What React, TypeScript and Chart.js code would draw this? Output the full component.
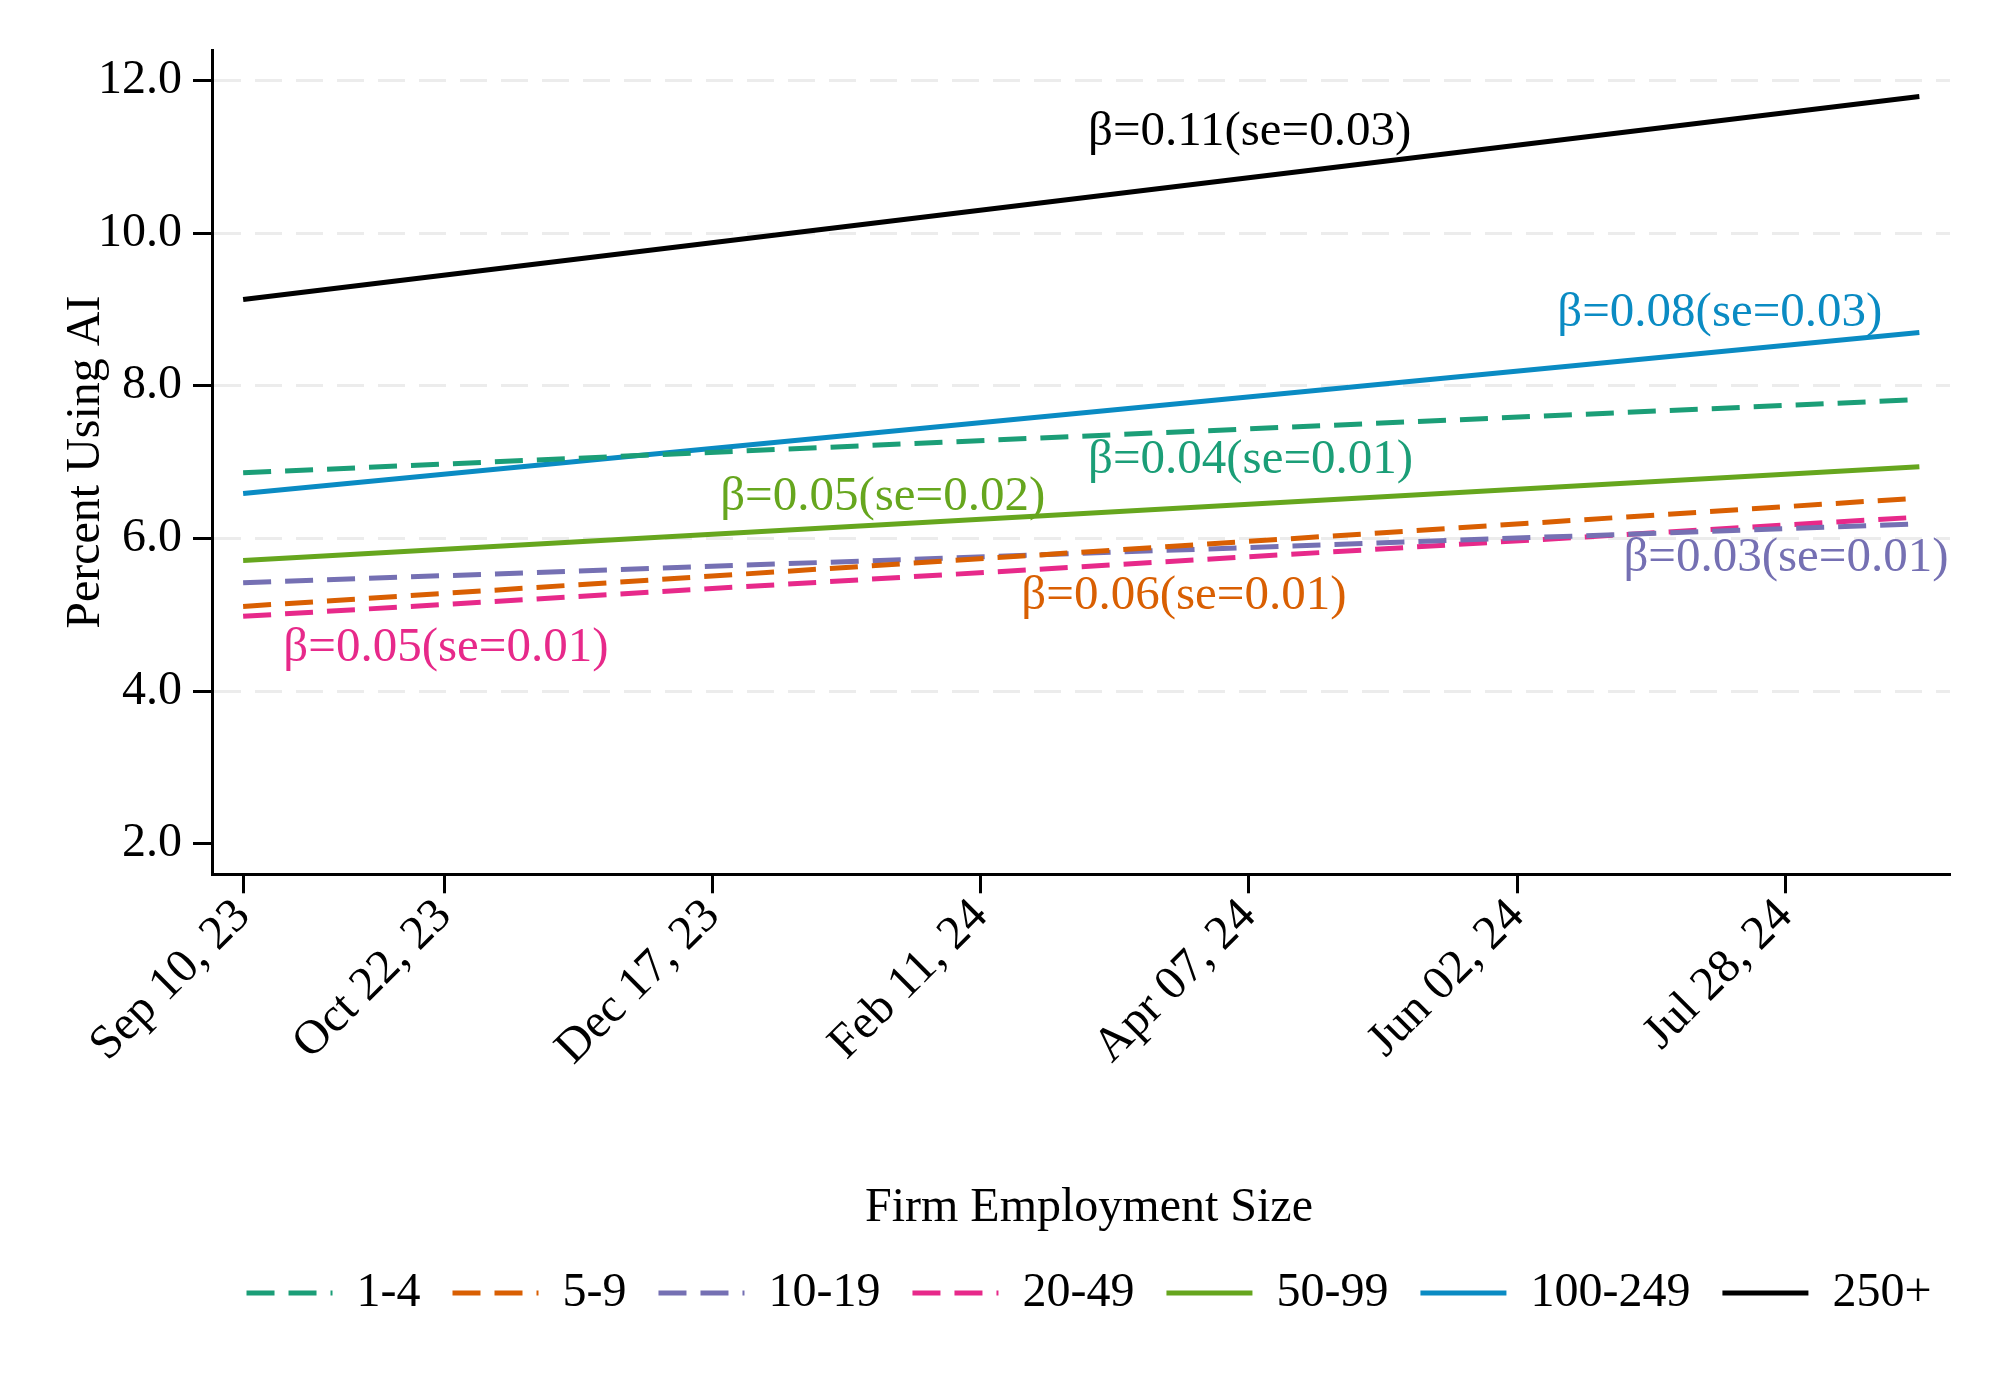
import React, { useEffect, useRef } from "react";
import { Chart, registerables } from "chart.js";

Chart.register(...registerables);

// ---- data ----
const SERIES_LABELS = ["1-4", "5-9", "10-19", "20-49", "50-99", "100-249", "250+"];
// fitted-line endpoints: days since Sep 10, 2023
const LINE_DAYS = [0, 350];
const START_VALUES = [6.86, 5.11, 5.42, 4.98, 5.71, 6.59, 9.13];
const END_VALUES = [7.82, 6.53, 6.19, 6.28, 6.94, 8.7, 11.79];

const X_TICK_DAYS = [0, 42, 98, 154, 210, 266, 322];
const X_TICK_LABELS = ["Sep 10, 23", "Oct 22, 23", "Dec 17, 23", "Feb 11, 24", "Apr 07, 24", "Jun 02, 24", "Jul 28, 24"];
const Y_TICKS = [2, 4, 6, 8, 10, 12];

const ANNOTATION_TEXT = [
  "β=0.04(se=0.01)",
  "β=0.06(se=0.01)",
  "β=0.03(se=0.01)",
  "β=0.05(se=0.01)",
  "β=0.05(se=0.02)",
  "β=0.08(se=0.03)",
  "β=0.11(se=0.03)",
];
const ANNOTATION_DAY = [176.4, 162.5, 288.2, 8.4, 99.6, 274.4, 176.4];
const ANNOTATION_VALUE = [6.86, 5.08, 5.57, 4.4, 6.37, 8.78, 11.15];

// ---- styles ----
const COLORS = ["#1b9e77", "#d95f02", "#7570b3", "#e7298a", "#66a61e", "#0a8bc3", "#000000"];
const DASHED = [true, true, true, true, false, false, false];
const DASH = [28, 14];
const LINE_WIDTH = 5;
const FONT_FAMILY = "'Liberation Serif', 'Times New Roman', serif";
const FONT_SIZE = 48;
const ANNOT_FONT_SIZE = 49;
const LEGEND_SHIFT = 114;

const annotationPlugin = {
  id: "betaAnnotations",
  afterDatasetsDraw(chart: any) {
    const { ctx, scales } = chart;
    ctx.save();
    ctx.font = `${ANNOT_FONT_SIZE}px ${FONT_FAMILY}`;
    ctx.textAlign = "left";
    ctx.textBaseline = "alphabetic";
    ANNOTATION_TEXT.forEach((t, i) => {
      ctx.fillStyle = COLORS[i];
      ctx.fillText(t, scales.x.getPixelForValue(ANNOTATION_DAY[i]), scales.y.getPixelForValue(ANNOTATION_VALUE[i]));
    });
    ctx.restore();
  },
};

const legendShiftPlugin = {
  id: "legendShift",
  afterLayout(chart: any) {
    const lg = chart.legend;
    if (lg) {
      lg.left += LEGEND_SHIFT;
      lg.right += LEGEND_SHIFT;
    }
  },
};

export default function App() {
  const ref = useRef<HTMLCanvasElement | null>(null);

  useEffect(() => {
    if (!ref.current) return;
    const datasets = SERIES_LABELS.map((label, i) => ({
      label,
      data: LINE_DAYS.map((d, k) => ({ x: d, y: k === 0 ? START_VALUES[i] : END_VALUES[i] })),
      borderColor: COLORS[i],
      backgroundColor: COLORS[i],
      borderWidth: LINE_WIDTH,
      borderDash: DASHED[i] ? DASH : [],
      borderCapStyle: "butt" as const,
      pointRadius: 0,
      fill: false,
      tension: 0,
    }));

    const font = { family: FONT_FAMILY, size: FONT_SIZE };

    const chart = new Chart(ref.current, {
      type: "line",
      data: { datasets },
      plugins: [annotationPlugin, legendShiftPlugin],
      options: {
        animation: false,
        responsive: false,
        devicePixelRatio: 1,
        layout: { padding: { left: 0, right: 50, top: 50, bottom: 73 } },
        plugins: {
          tooltip: { enabled: false },
          legend: {
            display: true,
            position: "bottom",
            title: {
              display: true,
              text: "Firm Employment Size",
              color: "#000",
              font: { family: FONT_FAMILY, size: FONT_SIZE, lineHeight: 1 },
              padding: { top: 112, bottom: 5 },
            },
            labels: {
              usePointStyle: true,
              pointStyle: "line",
              pointStyleWidth: 86,
              padding: 32,
              color: "#000",
              font: { family: FONT_FAMILY, size: FONT_SIZE },
              generateLabels: (c: any) => {
                const items = Chart.defaults.plugins.legend.labels.generateLabels(c);
                items.forEach((it: any, i: number) => {
                  it.lineDash = DASHED[i] ? DASH : [];
                  it.lineWidth = LINE_WIDTH;
                  it.strokeStyle = COLORS[i];
                  it.fillStyle = COLORS[i];
                  it.pointStyle = "line";
                  it.fontColor = "#000";
                });
                return items;
              },
            },
          },
        },
        scales: {
          x: {
            type: "linear",
            min: -6.5,
            max: 356.4,
            afterBuildTicks: (scale: any) => {
              scale.ticks = X_TICK_DAYS.map((v) => ({ value: v }));
            },
            ticks: {
              autoSkip: false,
              minRotation: 45,
              maxRotation: 45,
              padding: -5,
              labelOffset: 0,
              color: "#000",
              font,
              callback: (v: any) => {
                const idx = X_TICK_DAYS.indexOf(Number(v));
                return idx >= 0 ? X_TICK_LABELS[idx] : "";
              },
            },
            grid: {
              drawOnChartArea: false,
              drawTicks: true,
              tickLength: 19,
              tickWidth: 3,
              tickColor: "#000",
            },
            border: { display: true, color: "#000", width: 3 },
          },
          y: {
            type: "linear",
            min: 1.6,
            max: 12.4,
            afterBuildTicks: (scale: any) => {
              scale.ticks = Y_TICKS.map((v) => ({ value: v }));
            },
            ticks: {
              padding: 11,
              color: "#000",
              font,
              callback: (v: any) => Number(v).toFixed(1),
            },
            title: {
              display: true,
              text: "Percent Using AI",
              color: "#000",
              font: { family: FONT_FAMILY, size: FONT_SIZE, lineHeight: 1 },
              padding: { top: 62, bottom: -23 },
            },
            grid: {
              drawOnChartArea: true,
              color: (c: any) => (c.tick && c.tick.value === 2 ? "rgba(0,0,0,0)" : "#ececec"),
              lineWidth: 3,
              tickLength: 19,
              tickWidth: 3,
              tickColor: "#000",
            },
            border: { display: true, color: "#000", width: 3, dash: [27, 14] },
          },
        },
      },
    });

    return () => chart.destroy();
  }, []);

  return (
    <div style={{ position: "absolute", left: 0, top: 0, width: 2000, height: 1400, background: "#fff", overflow: "hidden" }}>
      <canvas ref={ref} width={2000} height={1400} style={{ width: 2000, height: 1400, display: "block" }} />
    </div>
  );
}
